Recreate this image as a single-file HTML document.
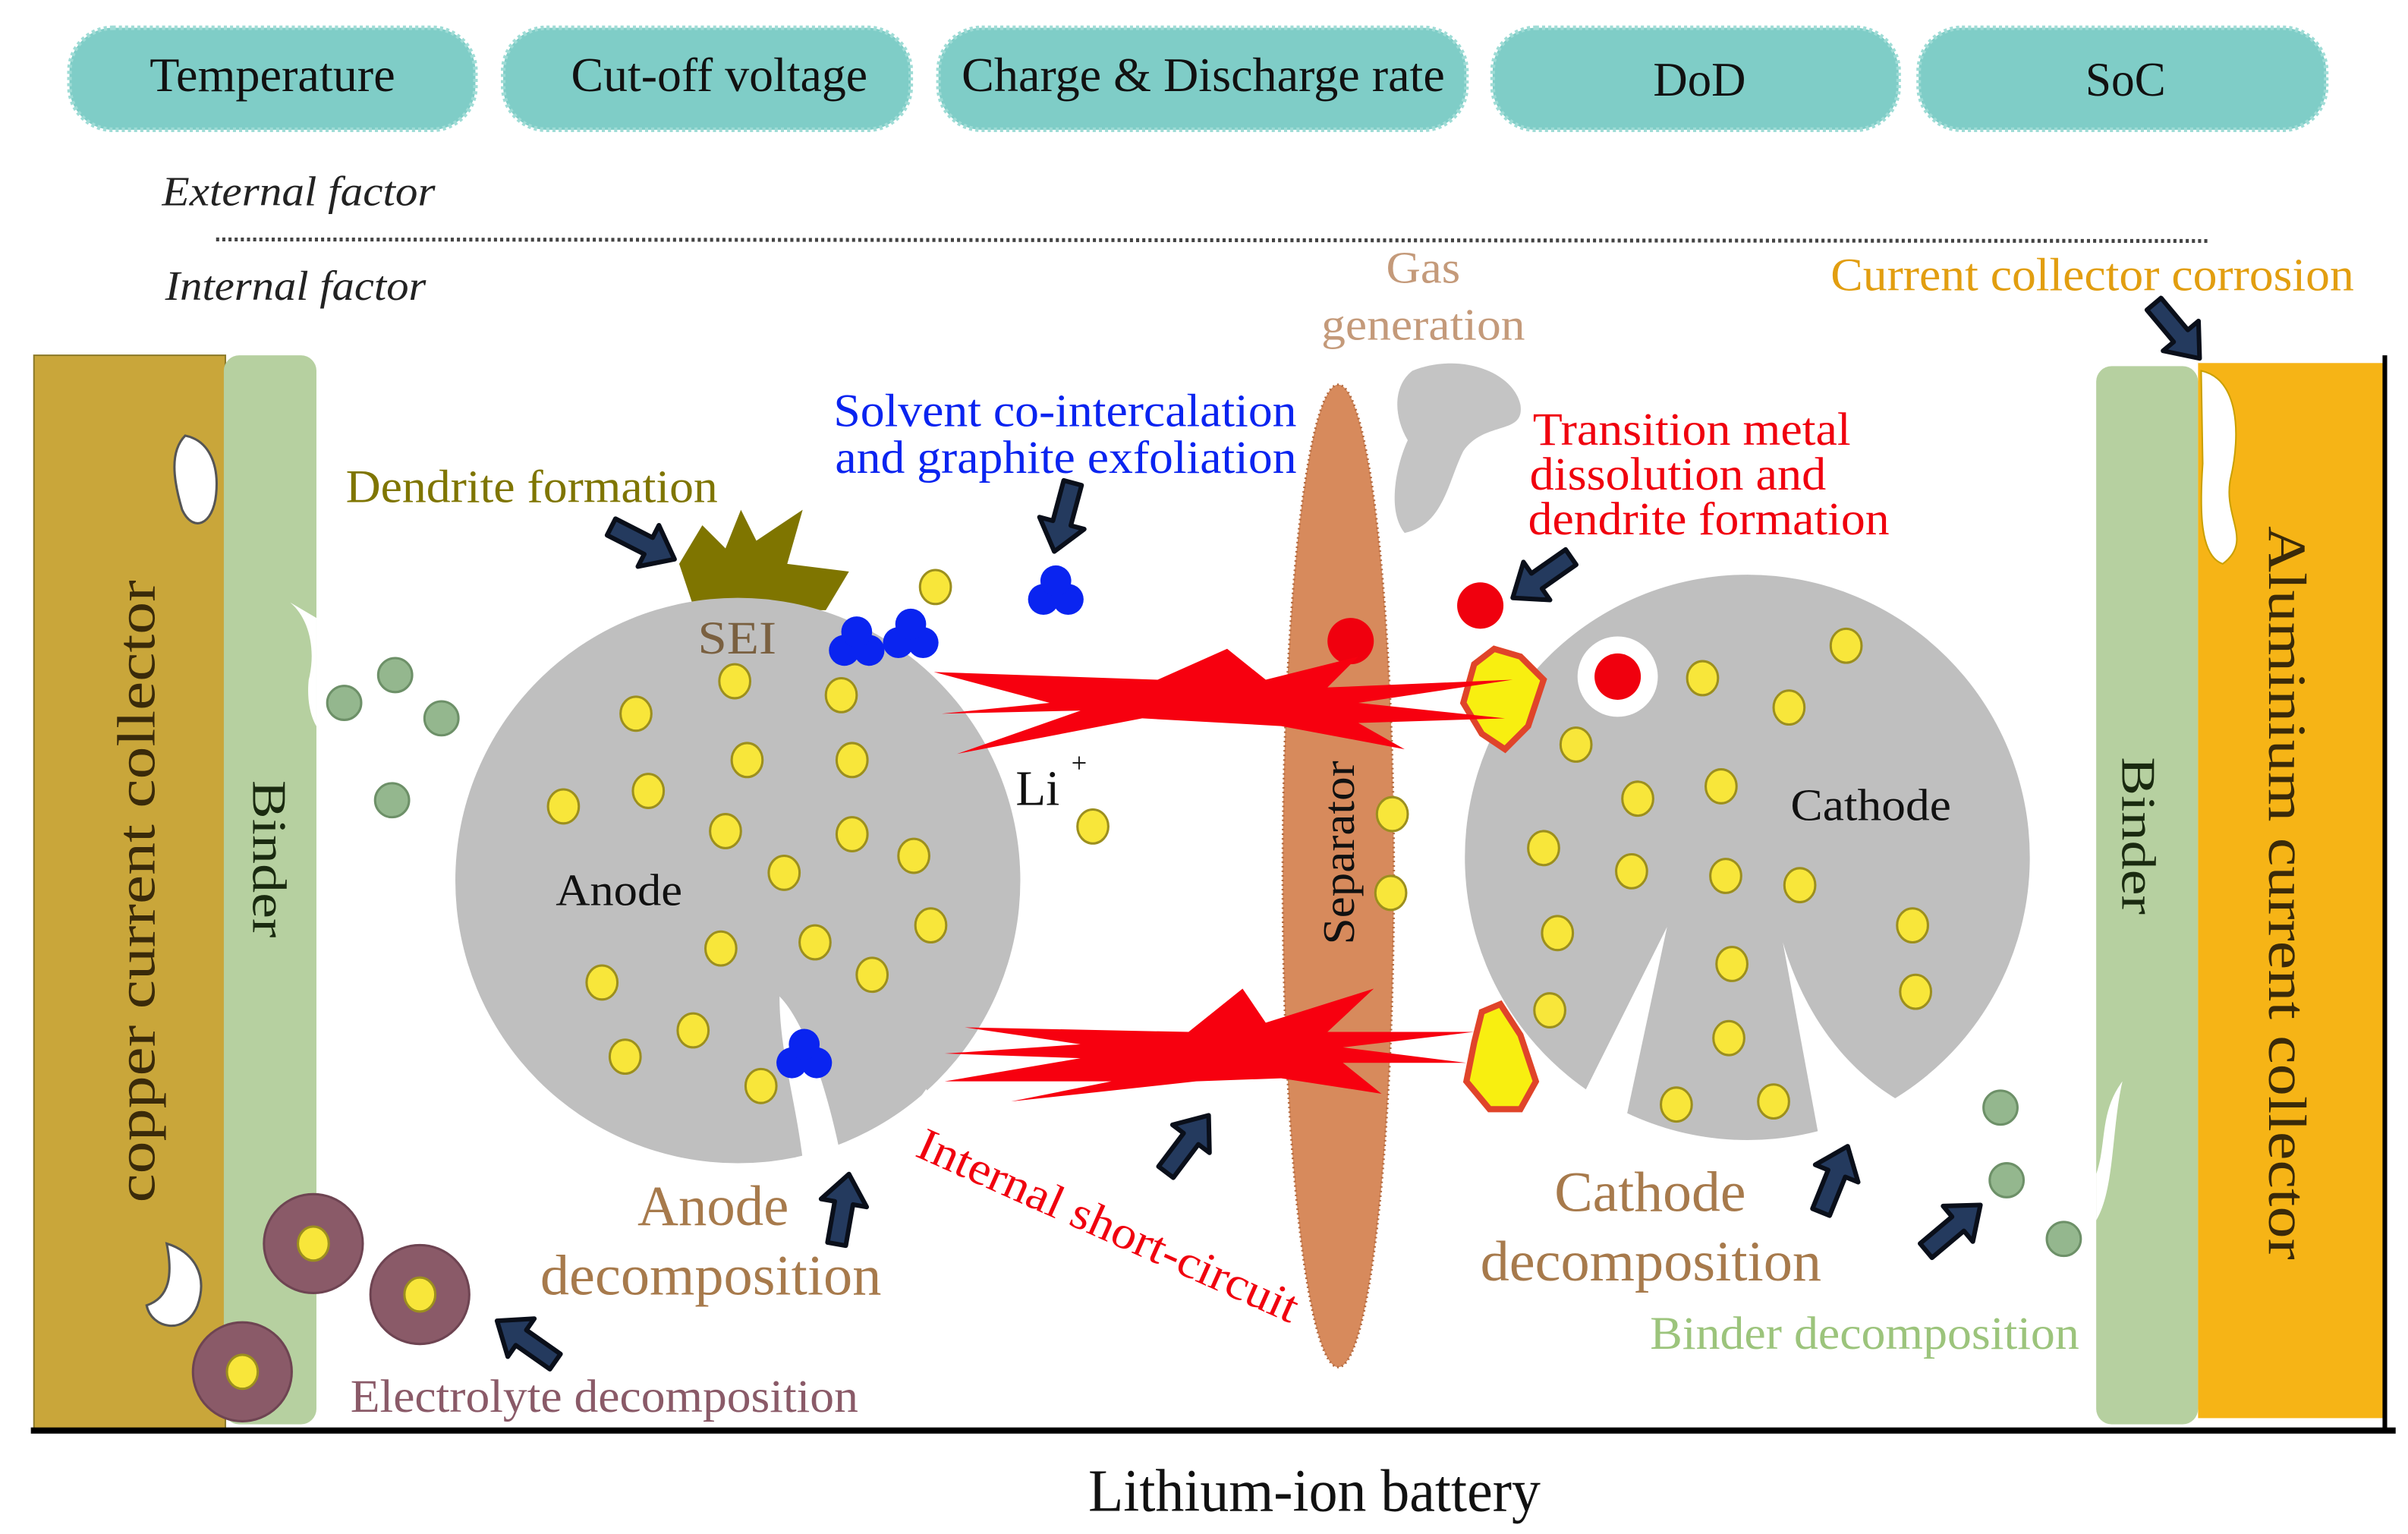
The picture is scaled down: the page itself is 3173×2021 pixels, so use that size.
<!DOCTYPE html>
<html><head><meta charset="utf-8"><style>
html,body{margin:0;padding:0;background:#fff;}
svg{display:block;}
text{font-family:"Liberation Serif",serif;}
</style></head><body>
<svg width="3173" height="2021" viewBox="0 0 1560 993" preserveAspectRatio="none" xmlns="http://www.w3.org/2000/svg">
<defs>
<g id="arr"><polygon points="-46,-6 -19,-6 -19,-15 0,0 -19,15 -19,6 -46,6" fill="#243a5e" stroke="#0a0f1a" stroke-width="3" stroke-linejoin="round"/></g>
<g id="yd"><ellipse rx="10" ry="11" fill="#f8e63a" stroke="#9c8f1e" stroke-width="1.5"/></g>
<g id="gd"><circle r="11" fill="#94b78e" stroke="#6d9068" stroke-width="1.5"/></g>
<g id="bl"><circle cx="-8" cy="6" r="10" fill="#0a24f0"/><circle cx="8" cy="6" r="10" fill="#0a24f0"/><circle cx="0" cy="-6" r="10" fill="#0a24f0"/></g>
</defs>
<rect width="1560" height="993" fill="#fff"/>
<g fill="#7fcdc7" stroke="#9fdcd6" stroke-width="3" stroke-dasharray="2 2">
<rect x="45" y="18" width="263" height="66" rx="28"/>
<rect x="326" y="18" width="264" height="66" rx="28"/>
<rect x="608" y="18" width="342" height="66" rx="28"/>
<rect x="967" y="18" width="263" height="66" rx="28"/>
<rect x="1243" y="18" width="264" height="66" rx="28"/>
</g>
<g font-size="31" fill="#111" lengthAdjust="spacingAndGlyphs">
<text x="97" y="59" textLength="159" lengthAdjust="spacingAndGlyphs">Temperature</text>
<text x="370" y="59" textLength="192" lengthAdjust="spacingAndGlyphs">Cut-off voltage</text>
<text x="623" y="59" textLength="313" lengthAdjust="spacingAndGlyphs">Charge &amp; Discharge rate</text>
<text x="1071" y="62" textLength="60" lengthAdjust="spacingAndGlyphs">DoD</text>
<text x="1351" y="62" textLength="52" lengthAdjust="spacingAndGlyphs">SoC</text>
</g>
<text x="105" y="133" font-size="27" font-style="italic" fill="#222" textLength="177" lengthAdjust="spacingAndGlyphs">External factor</text>
<line x1="140" y1="155" x2="1432" y2="156" stroke="#444" stroke-width="2.5" stroke-dasharray="2 2"/>
<text x="107" y="194" font-size="27" font-style="italic" fill="#222" textLength="169" lengthAdjust="spacingAndGlyphs">Internal factor</text>
<rect x="22" y="230" width="124" height="695" fill="#c9a63a" stroke="#8c7a2a" stroke-width="1"/>
<rect x="145" y="230" width="60" height="692" rx="10" fill="#b6d0a0"/>
<rect x="1358" y="237" width="66" height="685" rx="10" fill="#b6d0a0"/>
<rect x="1424" y="235" width="121" height="683" fill="#f6b416"/>
<line x1="1545" y1="230" x2="1545" y2="925" stroke="#000" stroke-width="3"/>
<line x1="20" y1="926" x2="1552" y2="926" stroke="#000" stroke-width="4"/>
<path d="M1426,240 C1450,245 1452,280 1445,310 C1440,335 1460,350 1440,365 C1425,360 1425,330 1427,300 Z" fill="#fff" stroke="#caa000" stroke-width="1"/>
<path d="M120,282 C135,285 142,300 140,320 C138,340 125,345 118,330 C112,310 110,292 120,282Z" fill="#fff" stroke="#555" stroke-width="1.5"/>
<path d="M108,805 C125,810 135,825 128,845 C120,865 98,860 95,845 C110,840 112,825 108,805Z" fill="#fff" stroke="#555" stroke-width="1.5"/>
<path d="M188,390 C200,400 205,420 200,440 C198,460 205,470 205,470 L205,400 Z" fill="#fff"/>
<path d="M1375,700 C1360,720 1365,740 1358,760 L1358,790 C1370,770 1368,730 1375,700Z" fill="#fff"/>
<text transform="translate(100,577) rotate(-90)" font-size="35" text-anchor="middle" fill="#3a2a0a" textLength="403" lengthAdjust="spacingAndGlyphs">copper current collector</text>
<text transform="translate(164,556) rotate(90)" font-size="31" text-anchor="middle" fill="#1a2a10" textLength="102" lengthAdjust="spacingAndGlyphs">Binder</text>
<text transform="translate(1375,541) rotate(90)" font-size="31" text-anchor="middle" fill="#1a2a10" textLength="102" lengthAdjust="spacingAndGlyphs">Binder</text>
<text transform="translate(1470,578) rotate(90)" font-size="35" text-anchor="middle" fill="#3a2a0a" textLength="475" lengthAdjust="spacingAndGlyphs">Aluminium current collector</text>
<ellipse cx="867" cy="567" rx="36" ry="318" fill="#d78a5c" stroke="#b36a40" stroke-width="1.5" stroke-dasharray="1 2"/>
<text transform="translate(877,552) rotate(-90)" font-size="29" text-anchor="middle" fill="#111" textLength="119" lengthAdjust="spacingAndGlyphs">Separator</text>
<path d="M915,240 C945,228 980,240 985,262 C988,282 962,272 948,292 C938,312 935,340 910,345 C898,330 905,300 912,285 C903,270 902,250 915,240Z" fill="#c4c4c4"/>
<polygon points="440,365 455,340 470,355 480,330 490,350 520,330 510,365 550,370 535,395 450,395" fill="#7f7500"/>
<circle cx="478" cy="570" r="183" fill="#bfbfbf"/>
<path d="M505,645 C520,660 535,700 545,750 L520,750 C515,710 505,680 505,645Z" fill="#fff"/>
<path d="M600,705 L560,760 L640,760 Z" fill="#fff"/>
<text x="452" y="423" font-size="30" fill="#7a6040" textLength="51" lengthAdjust="spacingAndGlyphs">SEI</text>
<text x="360" y="586" font-size="29" fill="#111" textLength="82" lengthAdjust="spacingAndGlyphs">Anode</text>
<use href="#bl" x="555" y="415"/><use href="#bl" x="590" y="410"/><use href="#bl" x="684" y="382"/><use href="#bl" x="521" y="682"/>
<circle cx="1132" cy="555" r="183" fill="#bfbfbf"/>
<circle cx="1048" cy="438" r="26" fill="#fff"/>
<path d="M1080,600 L1050,740 L1010,740 Z" fill="#fff"/>
<path d="M1155,610 C1170,660 1200,700 1245,720 L1180,745 Z" fill="#fff"/>
<path d="M955,430 L968,420 L985,425 L1000,440 L990,470 L975,485 L960,475 L948,455Z" fill="#f8ef10" stroke="#e0442a" stroke-width="4"/>
<path d="M960,655 L972,650 L985,670 L995,700 L985,718 L965,718 L950,700 L955,675Z" fill="#f8ef10" stroke="#e0442a" stroke-width="4"/>
<text x="1160" y="531" font-size="29" fill="#111" textLength="104" lengthAdjust="spacingAndGlyphs">Cathode</text>
<circle cx="875" cy="415" r="15" fill="#f0000e"/>
<circle cx="959" cy="392" r="15" fill="#f0000e"/>
<circle cx="1048" cy="438" r="15" fill="#f0000e"/>
<polygon points="605,435 750,440 795,420 820,440 880,425 860,445 980,440 880,455 975,465 880,468 910,485 830,470 740,465 620,488 700,460 610,462 680,455" fill="#f7000f"/>
<polygon points="625,665 770,668 805,640 820,662 890,640 860,668 955,668 870,678 950,688 870,688 895,708 830,698 775,700 655,713 720,700 612,700 700,685 612,682 700,676" fill="#f7000f"/>
<text x="658" y="521" font-size="32" fill="#111">Li</text><text x="694" y="500" font-size="18" fill="#111">+</text>
<g>
<use href="#yd" x="476" y="441"/><use href="#yd" x="545" y="450"/><use href="#yd" x="412" y="462"/><use href="#yd" x="484" y="492"/><use href="#yd" x="552" y="492"/><use href="#yd" x="365" y="522"/><use href="#yd" x="420" y="512"/><use href="#yd" x="470" y="538"/><use href="#yd" x="552" y="540"/><use href="#yd" x="592" y="554"/><use href="#yd" x="508" y="565"/><use href="#yd" x="603" y="599"/><use href="#yd" x="467" y="614"/><use href="#yd" x="528" y="610"/><use href="#yd" x="565" y="631"/><use href="#yd" x="390" y="636"/><use href="#yd" x="449" y="667"/><use href="#yd" x="405" y="684"/><use href="#yd" x="493" y="703"/>
<use href="#yd" x="606" y="380"/><use href="#yd" x="708" y="535"/><use href="#yd" x="902" y="527"/><use href="#yd" x="901" y="578"/>
<use href="#yd" x="1196" y="418"/><use href="#yd" x="1103" y="439"/><use href="#yd" x="1159" y="458"/><use href="#yd" x="1021" y="482"/><use href="#yd" x="1061" y="517"/><use href="#yd" x="1115" y="509"/><use href="#yd" x="1000" y="549"/><use href="#yd" x="1057" y="564"/><use href="#yd" x="1118" y="567"/><use href="#yd" x="1166" y="573"/><use href="#yd" x="1239" y="599"/><use href="#yd" x="1009" y="604"/><use href="#yd" x="1122" y="624"/><use href="#yd" x="1241" y="642"/><use href="#yd" x="1004" y="654"/><use href="#yd" x="1120" y="672"/><use href="#yd" x="1086" y="715"/><use href="#yd" x="1149" y="713"/>
</g>
<use href="#gd" x="223" y="455"/><use href="#gd" x="256" y="437"/><use href="#gd" x="286" y="465"/><use href="#gd" x="254" y="518"/><use href="#gd" x="1296" y="717"/><use href="#gd" x="1300" y="764"/><use href="#gd" x="1337" y="802"/>
<g fill="#8a5a68" stroke="#6e4452" stroke-width="1.5">
<circle cx="203" cy="805" r="32"/><circle cx="272" cy="838" r="32"/><circle cx="157" cy="888" r="32"/></g>
<use href="#yd" x="203" y="805"/><use href="#yd" x="272" y="838"/><use href="#yd" x="157" y="888"/>
<use href="#arr" transform="translate(437,362) rotate(27)"/>
<use href="#arr" transform="translate(683,357) rotate(105)"/>
<use href="#arr" transform="translate(980,387) rotate(145)"/>
<use href="#arr" transform="translate(1425,232) rotate(50)"/>
<use href="#arr" transform="translate(550,760) rotate(-80)"/>
<use href="#arr" transform="translate(783,722) rotate(-53)"/>
<use href="#arr" transform="translate(1197,742) rotate(-68)"/>
<use href="#arr" transform="translate(1283,780) rotate(-40)"/>
<use href="#arr" transform="translate(322,855) rotate(-145)"/>
<text x="224" y="325" font-size="30" fill="#7f7500" textLength="241" lengthAdjust="spacingAndGlyphs">Dendrite formation</text>
<text x="540" y="276" font-size="30" fill="#0a24f0" textLength="300" lengthAdjust="spacingAndGlyphs">Solvent co-intercalation</text>
<text x="541" y="306" font-size="30" fill="#0a24f0" textLength="299" lengthAdjust="spacingAndGlyphs">and graphite exfoliation</text>
<text x="898" y="183" font-size="29" fill="#c49a7a" textLength="48" lengthAdjust="spacingAndGlyphs">Gas</text>
<text x="856" y="220" font-size="29" fill="#c49a7a" textLength="132" lengthAdjust="spacingAndGlyphs">generation</text>
<text x="1186" y="188" font-size="30" fill="#e29e10" textLength="339" lengthAdjust="spacingAndGlyphs">Current collector corrosion</text>
<text x="993" y="288" font-size="30" fill="#f0000e" textLength="206" lengthAdjust="spacingAndGlyphs">Transition metal</text>
<text x="991" y="317" font-size="30" fill="#f0000e" textLength="192" lengthAdjust="spacingAndGlyphs">dissolution and</text>
<text x="990" y="346" font-size="30" fill="#f0000e" textLength="234" lengthAdjust="spacingAndGlyphs">dendrite formation</text>
<text x="413" y="793" font-size="37" fill="#a77a4c" textLength="98" lengthAdjust="spacingAndGlyphs">Anode</text>
<text x="350" y="838" font-size="37" fill="#a77a4c" textLength="221" lengthAdjust="spacingAndGlyphs">decomposition</text>
<text x="1007" y="784" font-size="37" fill="#a77a4c" textLength="124" lengthAdjust="spacingAndGlyphs">Cathode</text>
<text x="959" y="829" font-size="37" fill="#a77a4c" textLength="221" lengthAdjust="spacingAndGlyphs">decomposition</text>
<text transform="translate(592,748) rotate(24)" font-size="30" fill="#f0000e" textLength="267" lengthAdjust="spacingAndGlyphs">Internal short-circuit</text>
<text x="1069" y="873" font-size="30" fill="#9cc47c" textLength="278" lengthAdjust="spacingAndGlyphs">Binder decomposition</text>
<text x="227" y="914" font-size="30" fill="#8a5a68" textLength="329" lengthAdjust="spacingAndGlyphs">Electrolyte decomposition</text>
<text x="705" y="978" font-size="39" fill="#111" textLength="293" lengthAdjust="spacingAndGlyphs">Lithium-ion battery</text>
</svg>
</body></html>
